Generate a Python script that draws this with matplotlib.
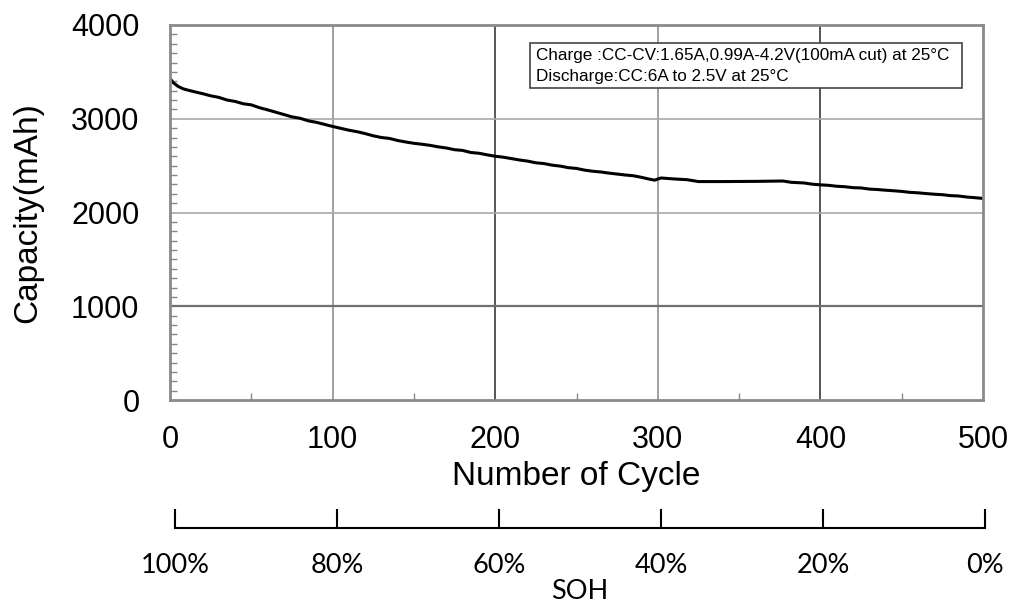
import matplotlib
matplotlib.use("Agg")
import matplotlib.pyplot as plt
from matplotlib.ticker import MultipleLocator
from matplotlib.patches import Rectangle
import numpy as np

# Cycle-life capacity data
cycles = [0, 2, 5, 8, 10, 15, 20, 25, 30, 35, 40, 45, 50, 55, 60, 65, 70, 75, 80, 85,
          90, 95, 100, 105, 110, 115, 120, 125, 130, 135, 140, 145, 150, 155, 160, 165,
          170, 175, 180, 185, 190, 195, 200, 205, 210, 215, 220, 225, 230, 235, 240, 245,
          250, 255, 260, 265, 270, 275, 280, 285, 290, 295, 298, 302, 310, 318, 325, 340,
          360, 377, 382, 390, 395, 400, 405, 410, 415, 420, 425, 430, 435, 440, 445, 450,
          455, 460, 465, 470, 475, 480, 485, 490, 495, 500]
capacity = [3430, 3385, 3345, 3320, 3310, 3288, 3268, 3245, 3228, 3200, 3185, 3160, 3148, 3118,
            3095, 3070, 3045, 3020, 3005, 2978, 2962, 2940, 2918, 2898, 2878, 2862, 2842, 2818,
            2800, 2790, 2768, 2752, 2738, 2728, 2716, 2700, 2688, 2670, 2662, 2640, 2632, 2615,
            2600, 2590, 2575, 2560, 2548, 2530, 2522, 2505, 2495, 2478, 2470, 2452, 2440, 2432,
            2420, 2410, 2400, 2392, 2375, 2355, 2345, 2368, 2358, 2350, 2330, 2330,
            2332, 2336, 2322, 2315, 2302, 2295, 2290, 2280, 2275, 2265, 2262, 2250, 2245, 2238,
            2232, 2225, 2215, 2210, 2202, 2195, 2190, 2180, 2176, 2165, 2158, 2150]

x_ticks = [0, 100, 200, 300, 400, 500]
y_ticks = [0, 1000, 2000, 3000, 4000]
soh_labels = ["100%", "80%", "60%", "40%", "20%", "0%"]

charge_text = "Charge :CC-CV:1.65A,0.99A-4.2V(100mA cut) at 25\u00b0C"
discharge_text = "Discharge:CC:6A to 2.5V at 25\u00b0C"

W, H = 1015, 604
fig = plt.figure(figsize=(W / 100, H / 100), dpi=100)
plt.rcParams["font.family"] = ["Liberation Sans", "DejaVu Sans"]

ax = fig.add_axes([170 / W, 1 - 400 / H, (983 - 170) / W, (400 - 25) / H])
ax.plot(cycles, capacity, color="black", lw=2.2, solid_joinstyle="round")
ax.set_xlim(0, 500)
ax.set_ylim(0, 4000)
ax.set_xticks(x_ticks)
ax.set_yticks(y_ticks)
ax.xaxis.set_minor_locator(MultipleLocator(50))
ax.yaxis.set_minor_locator(MultipleLocator(100))
ax.tick_params(axis="both", which="major", length=0, labelsize=22)
ax.tick_params(axis="x", which="major", pad=18)
ax.tick_params(axis="y", which="major", pad=22)
ax.tick_params(axis="both", which="minor", direction="in", length=5, width=1.0,
               color="#888888")

for s in ax.spines.values():
    s.set_color("#8a8a8a")
    s.set_linewidth(2.0)

# grid: darker lines at a few positions
for xv in x_ticks[1:-1]:
    c = "#555555" if xv in (200, 400) else "#a0a0a0"
    ax.axvline(xv, color=c, lw=1.4, zorder=0)
for yv in y_ticks[1:-1]:
    c = "#707070" if yv == 1000 else "#a8a8a8"
    ax.axhline(yv, color=c, lw=1.6 if yv == 1000 else 1.2, zorder=0)

ax.set_xlabel("Number of Cycle", fontsize=24, labelpad=4)
ax.set_ylabel("Capacity(mAh)", fontsize=24, labelpad=20)

# test-condition note box
ax.add_patch(Rectangle((0.4428, 0.832), 0.5312, 0.12, transform=ax.transAxes,
                       fc="white", ec="#444444", lw=1.2, zorder=3))
ax.text(0.4502, 0.918, charge_text, transform=ax.transAxes, fontsize=12.3,
        va="center", ha="left", zorder=4)
ax.text(0.4502, 0.862, discharge_text, transform=ax.transAxes, fontsize=12.3,
        va="center", ha="left", zorder=4)

# State-of-health scale below the cycle axis
ax2 = fig.add_axes([175 / W, 1 - 528 / H, (985 - 175) / W, 0.001])
ax2.set_xlim(0, 1)
ax2.set_xticks(np.linspace(0, 1, len(soh_labels)))
ax2.set_xticklabels(soh_labels, fontfamily="Lato", fontsize=19.5)
ax2.set_yticks([])
for side in ("top", "left", "right"):
    ax2.spines[side].set_visible(False)
ax2.spines["bottom"].set_linewidth(1.5)
ax2.tick_params(axis="x", direction="in", length=14, width=1.5, pad=18)
ax2.set_xlabel("SOH", fontfamily="Lato", fontsize=19.5, labelpad=1)

fig.savefig("out.png", dpi=100, facecolor="white")
